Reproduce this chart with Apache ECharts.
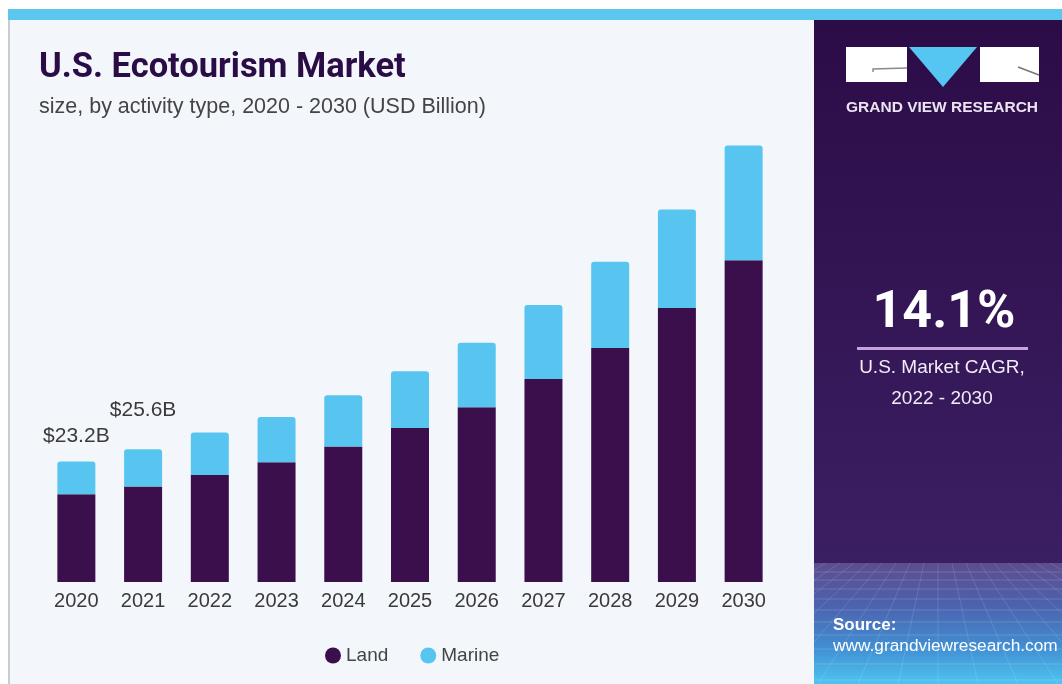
<!DOCTYPE html>
<html>
<head>
<meta charset="utf-8">
<script src="https://cdn.jsdelivr.net/npm/echarts@6/dist/echarts.min.js"></script>
<style>
html,body{margin:0;padding:0;background:#ffffff;}
#chart{width:1062px;height:684px;}
</style>
</head>
<body>
<div id="chart"></div>
<script>
const categories = ['2020','2021','2022','2023','2024','2025','2026','2027','2028','2029','2030'];
const landValues = [16.9, 18.4, 20.6, 23.1, 26.1, 29.7, 33.7, 39.1, 45.1, 52.8, 62.0];
const marineValues = [6.3, 7.2, 8.2, 8.7, 9.9, 10.9, 12.4, 14.3, 16.6, 19.0, 22.1];
const totalLabels = ['$23.2B', '$25.6B'];
const seriesNames = ['Land', 'Marine'];

const LAND = '#3a0f4b';
const MARINE = '#58c5f0';
const SANS = "'Liberation Sans', Arial, sans-serif";

const chart = echarts.init(document.getElementById('chart'));

const marineData = marineValues.map((v, i) => {
  if (i < totalLabels.length) {
    return {
      value: v,
      label: {
        show: true,
        position: 'top',
        distance: i === 0 ? 15 : 28,
        formatter: totalLabels[i],
        fontFamily: SANS,
        fontSize: 21,
        color: '#3a3a3a'
      }
    };
  }
  return v;
});

// faint grid texture in the source box (decorative)
const texture = [];
const hLines = [572, 580, 589, 599, 610, 622, 635, 649, 664, 680];
hLines.forEach(y => texture.push({ type: 'line', z: -7, shape: { x1: 814, y1: y, x2: 1062, y2: y }, style: { stroke: 'rgba(255,255,255,0.16)', lineWidth: 1 } }));
for (let k = -8; k <= 8; k++) {
  texture.push({ type: 'line', z: -7, shape: { x1: 938 + k * 14, y1: 563, x2: 938 + k * 40, y2: 684 }, style: { stroke: 'rgba(255,255,255,0.13)', lineWidth: 1 } });
}

const option = {
  animation: false,
  backgroundColor: '#ffffff',
  graphic: [
    { type: 'rect', z: -10, shape: { x: 8, y: 10, width: 1054, height: 674 }, style: { fill: '#f3f7fb' } },
    { type: 'rect', z: -9, shape: { x: 8, y: 20, width: 2, height: 664 }, style: { fill: '#c9ccd2' } },
    { type: 'rect', z: -8, shape: { x: 8, y: 9, width: 1054, height: 11 }, style: { fill: '#5cc7ee' } },
    { type: 'rect', z: -8, shape: { x: 814, y: 20, width: 248, height: 543 },
      style: { fill: new echarts.graphic.LinearGradient(0, 0, 0, 1, [
        { offset: 0, color: '#2c0c47' }, { offset: 1, color: '#3b1f63' }]) } },
    { type: 'rect', z: -8, shape: { x: 814, y: 563, width: 248, height: 121 },
      style: { fill: new echarts.graphic.LinearGradient(0, 0, 0, 1, [
        { offset: 0, color: '#5d4d8e' }, { offset: 0.35, color: '#4c62ae' },
        { offset: 0.7, color: '#418fd3' }, { offset: 1, color: '#4fc4f0' }]) } },
    ...texture,
    // logo
    { type: 'rect', z: 5, shape: { x: 846, y: 47, width: 61, height: 35 }, style: { fill: '#ffffff' } },
    { type: 'polyline', z: 6, shape: { points: [[873, 72], [873, 69], [907, 68]] }, style: { stroke: '#8a8a8a', lineWidth: 1.5, fill: null } },
    { type: 'polygon', z: 5, shape: { points: [[909, 47], [977, 47], [943, 87]] }, style: { fill: '#55c6f1' } },
    { type: 'rect', z: 5, shape: { x: 980, y: 47, width: 59, height: 35 }, style: { fill: '#ffffff' } },
    { type: 'line', z: 6, shape: { x1: 1018, y1: 67, x2: 1039, y2: 75 }, style: { stroke: '#777777', lineWidth: 1.5 } },
    { type: 'text', z: 6, style: { x: 846, y: 108, text: 'GRAND VIEW RESEARCH', textVerticalAlign: 'middle', fontFamily: SANS, fontWeight: 'bold', fontSize: 15.5, fill: '#ebe3f2' } },
    // CAGR
    { type: 'text', z: 6, style: { x: 944, y: 314, text: '14.1%', textAlign: 'center', textVerticalAlign: 'middle', fontFamily: "Roboto, 'Liberation Sans', sans-serif", fontWeight: 'bold', fontSize: 52, fill: '#ffffff' } },
    { type: 'rect', z: 6, shape: { x: 857, y: 347, width: 171, height: 3 }, style: { fill: '#c6a3df' } },
    { type: 'text', z: 6, style: { x: 942, y: 368, text: 'U.S. Market CAGR,', textAlign: 'center', textVerticalAlign: 'middle', fontFamily: SANS, fontSize: 19, fill: '#f2ecf6' } },
    { type: 'text', z: 6, style: { x: 942, y: 399, text: '2022 - 2030', textAlign: 'center', textVerticalAlign: 'middle', fontFamily: SANS, fontSize: 19, fill: '#f2ecf6' } },
    // source
    { type: 'text', z: 6, style: { x: 833, y: 625, text: 'Source:', textVerticalAlign: 'middle', fontFamily: SANS, fontWeight: 'bold', fontSize: 17, fill: '#ffffff' } },
    { type: 'text', z: 6, style: { x: 833, y: 646, text: 'www.grandviewresearch.com', textVerticalAlign: 'middle', fontFamily: SANS, fontSize: 17.3, fill: '#ffffff' } }
  ],
  title: [
    { text: 'U.S. Ecotourism Market', left: 34, top: 46,
      textStyle: { fontFamily: "Roboto, 'Liberation Sans', sans-serif", fontWeight: 'bold', fontSize: 34.5, color: '#2a0c46' } },
    { text: 'size, by activity type, 2020 - 2030 (USD Billion)', left: 34, top: 91,
      textStyle: { fontFamily: SANS, fontWeight: 'normal', fontSize: 21.5, color: '#444444' } }
  ],
  legend: {
    data: seriesNames,
    left: 320, top: 641,
    icon: 'circle', itemWidth: 16, itemHeight: 16, itemGap: 32,
    textStyle: { fontFamily: SANS, fontSize: 19, color: '#444444' }
  },
  grid: { left: 43, right: 285, top: 115, bottom: 102, containLabel: false },
  xAxis: {
    type: 'category',
    data: categories,
    axisLine: { show: false },
    axisTick: { show: false },
    axisLabel: { margin: 9, fontFamily: SANS, fontSize: 20, color: '#3a3a3a' }
  },
  yAxis: {
    type: 'value', min: 0, max: 90, show: false,
    splitLine: { show: false }
  },
  series: [
    { name: seriesNames[0], type: 'bar', stack: 'total', barWidth: 38, data: landValues,
      itemStyle: { color: LAND } },
    { name: seriesNames[1], type: 'bar', stack: 'total', barWidth: 38, data: marineData,
      itemStyle: { color: MARINE, borderRadius: [3, 3, 0, 0] } }
  ]
};
chart.setOption(option);
</script>
</body>
</html>
